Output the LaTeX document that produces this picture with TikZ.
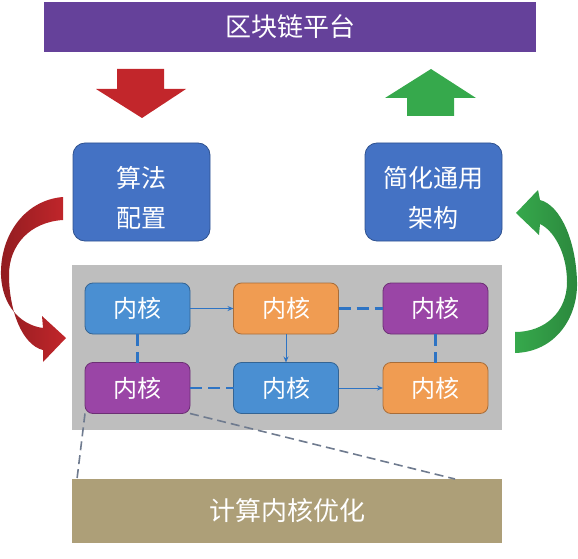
\documentclass[tikz,border=0pt]{standalone}
\usepackage{fontspec}
\newfontfamily\cjk{Noto Sans CJK SC}
\usetikzlibrary{arrows.meta}

\definecolor{platpurple}{HTML}{65419A}
\definecolor{topblue}{HTML}{4472C4}
\definecolor{topedge}{HTML}{2F528F}
\definecolor{kblue}{HTML}{4A8FD2}
\definecolor{korange}{HTML}{F09C52}
\definecolor{kpurple}{HTML}{9A45A6}
\definecolor{panelgray}{HTML}{BEBEBE}
\definecolor{basetan}{HTML}{AD9F78}
\definecolor{linkblue}{HTML}{2E74C4}
\definecolor{zoomgray}{HTML}{6F7B8F}
\definecolor{arrowred}{HTML}{C2262B}
\definecolor{arrowgreen}{HTML}{36A94C}

\begin{document}
\begin{tikzpicture}[x=1pt,y=1pt,yscale=-1,
  kbox/.style={rounded corners=8pt,draw=#1!70!black,line width=0.8pt,fill=#1,
    minimum width=105pt,minimum height=51pt,inner sep=0pt,outer sep=0pt,
    text=white,font={\cjk\fontsize{24}{28}\selectfont}},
  topbox/.style={rounded corners=12pt,draw=topedge,line width=0.8pt,fill=topblue,
    minimum width=137pt,minimum height=98pt,inner sep=0pt,outer sep=0pt},
  toptext/.style={text=white,align=center,inner sep=0pt,font={\cjk\fontsize{25}{40}\selectfont}},
  bar/.style={fill=#1,minimum width=430pt,inner sep=0pt,outer sep=0pt,
    text=white,font={\cjk\fontsize{26}{30}\selectfont}},
  solidlink/.style={draw=linkblue,line width=1pt,-{Stealth[length=6pt,width=5pt]}},
  dashlink/.style={draw=linkblue,line width=2.8pt,dash pattern=on 12pt off 6pt},
  zoomline/.style={draw=zoomgray,line width=1.6pt,dash pattern=on 9pt off 5pt}]
%set diagram to the size of the reference
\path[use as bounding box] (0,0) rectangle (578,559);

%Platform banner
\node[bar=platpurple,minimum width=492pt,minimum height=50pt] (plat) at (290,27) {区块链平台};

%Down arrow (red)
\fill[arrowred] (117,69) -- (164,69) -- (164,89) -- (186,89) -- (142,118) -- (96,89) -- (117,89) -- cycle;
%Up arrow (green)
\fill[arrowgreen] (407,116) -- (454,116) -- (454,98) -- (476,98) -- (431,69) -- (385,98) -- (407,98) -- cycle;

%Upper boxes
\node[topbox] (alg) at (141.5,192) {};
\node[toptext] (algtxt) at (141.5,198) {算法\\配置};
\node[topbox] (simp) at (433.5,192) {};
\node[toptext] (simptxt) at (433.5,198) {简化通用\\架构};

%Kernel panel
\node[fill=panelgray,minimum width=430pt,minimum height=165pt,inner sep=0pt] (panel) at (287,347.5) {};

%Dashed zoom lines
\coordinate (lz) at (77,479);
\coordinate (rz) at (455,479);

%Kernel boxes
\node[kbox=kblue] (k1) at (137.5,308.5) {内核};
\node[kbox=korange] (k2) at (286,308.5) {内核};
\node[kbox=kpurple] (k3) at (435.5,308.5) {内核};
\node[kbox=kpurple] (k4) at (137.5,388) {内核};
\node[kbox=kblue] (k5) at (286,388) {内核};
\node[kbox=korange] (k6) at (435.5,388) {内核};

%Links between kernels
\draw[solidlink] (k1) -- (k2);
\draw[solidlink] (k2) -- (k5);
\draw[solidlink] (k5) -- (k6);
\draw[dashlink] (k2) -- (k3);
\draw[dashlink] (k1) -- (k4);
\draw[dashlink] (k4) -- (k5);
\draw[dashlink] (k3) -- (k6);

%Base bar
\node[bar=basetan,minimum height=64pt] (base) at (287,511) {计算内核优化};

\draw[zoomline] (k4.south west) -- (lz);
\draw[zoomline] (k4.south east) -- (rz);

%Curved arrow (red)
\shade[left color=arrowred!75!black,right color=arrowred]
  (63,197) .. controls (25,200) and (0,235) .. (1,275)
  .. controls (2,305) and (20,325) .. (43,328) -- (42,316) -- (66,338) -- (43,362) -- (43,350)
  .. controls (22,345) and (9,310) .. (9,275)
  .. controls (9,245) and (30,222) .. (63,220) -- cycle;
%Curved arrow (green)
\shade[left color=arrowgreen,right color=arrowgreen!80!black]
  (515,353) .. controls (555,352) and (578,318) .. (577,282)
  .. controls (576,240) and (560,205) .. (540,200) -- (538,190) -- (516,213) -- (539,235) -- (540,224)
  .. controls (553,230) and (567,252) .. (567,282)
  .. controls (567,312) and (545,332) .. (515,332) -- cycle;
\end{tikzpicture}
\end{document}
